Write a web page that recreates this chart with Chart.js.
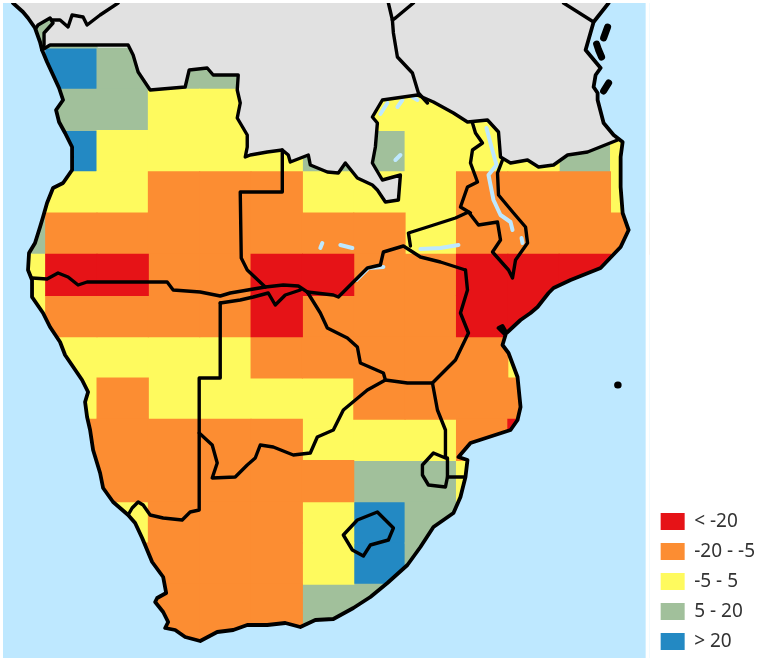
<!DOCTYPE html>
<html>
<head>
<meta charset="utf-8">
<style>
  html,body{margin:0;padding:0;background:#fff;}
  #wrap{width:765px;height:658px;}
</style>
<script src="https://cdn.jsdelivr.net/npm/chart.js@4"></script>
</head>
<body>
<div id="wrap"><canvas id="myChart"></canvas></div>
<script>
const classLabels = ['< -20', '-20 - -5', '-5 - 5', '5 - 20', '> 20'];
const classColors = ['#E61317', '#FC8D32', '#FEFA5E', '#A1C09B', '#2389C3'];

// change class of each grid cell, north to south, west to east (_ = no cell)
const _ = null;
const gridRows = [
  [3,3,_,_,_,_,_,_,_,_,_,_,_],
  [_,4,3,3,3,3,_,_,_,_,_,_,_],
  [_,3,3,2,2,2,2,2,2,2,2,_,_],
  [_,4,2,2,2,2,3,3,2,2,2,3,2],
  [2,2,2,1,1,1,2,2,2,1,1,1,2],
  [3,1,1,1,1,1,1,1,2,1,1,1,1],
  [2,0,0,1,1,0,0,1,1,0,0,0,_],
  [2,1,1,1,1,0,1,1,1,0,0,_,_],
  [_,2,2,2,2,1,1,1,1,1,2,_,_],
  [_,2,1,2,2,2,2,1,1,1,1,_,_],
  [_,1,1,1,1,1,2,2,2,1,0,_,_],
  [_,1,1,1,1,1,1,3,3,2,_,_,_],
  [_,_,2,1,1,1,2,4,3,_,_,_,_],
  [_,_,1,1,1,1,2,4,3,_,_,_,_],
  [_,_,_,1,1,1,3,3,3,_,_,_,_],
  [_,_,_,1,1,1,3,_,_,_,_,_,_]
];
// grid edges in map units
const gridLeft = -5.7, gridTop = 6.75, cellW = 51.3, cellH = 41.25;

// outlines in map units
const coast = [[13,3],[23,12],[28,18],[35,28],[40,42],[42,50],[47,62],[53,75],[59,88],[63,100],[56,110],[59,122],[65,133],[72,147],[72,170],[63,183],[53,188],[47,203],[43,217],[40,227],[35,243],[29,253],[28,270],[32,280],[32,297],[43,313],[50,327],[60,342],[65,355],[82,380],[88,392],[85,402],[87,417],[90,430],[93,450],[100,473],[103,488],[113,502],[128,515],[135,523],[142,538],[152,562],[163,577],[166,593],[157,598],[155,602],[163,612],[168,622],[165,628],[175,630],[185,637],[200,641],[217,632],[233,630],[247,625],[267,625],[285,623],[300,627],[315,620],[333,619],[353,608],[370,597],[387,583],[407,565],[420,547],[433,527],[453,513],[460,497],[465,477],[467,460],[458,457],[470,443],[510,430],[517,420],[520,407],[517,377],[508,353],[502,345],[505,335],[498,328],[502,326],[506,333],[520,320],[530,313],[537,307],[548,293],[553,288],[570,280],[600,268],[620,247],[628,230],[622,213],[620,187],[620,157],[622,142],[613,135],[603,123],[597,100],[597,93],[593,87],[595,75],[600,68],[585,50],[593,22],[608,3]];
const oceanBox = [[656,3],[656,658],[3,658],[3,3],[13,3]];
const sideMargin = [[645,0],[656,0],[656,660],[645,660],[645,0]];
const northLand = [[13,3],[23,12],[28,18],[35,28],[38,25],[50,18],[53,23],[44,33],[44,45],[42,50],[50,45],[80,45],[128,45],[133,55],[138,72],[150,90],[185,87],[189,70],[207,68],[213,75],[238,75],[237,90],[240,103],[237,118],[247,135],[247,147],[245,157],[250,155],[267,152],[282,150],[288,155],[290,162],[308,155],[310,165],[327,172],[338,173],[345,163],[357,178],[372,185],[377,190],[385,202],[398,200],[400,175],[382,180],[372,163],[375,147],[377,123],[372,117],[382,100],[417,95],[433,102],[453,113],[467,122],[487,120],[498,132],[500,157],[510,163],[527,160],[538,167],[553,165],[567,155],[587,152],[617,140],[613,135],[603,123],[597,100],[597,93],[593,87],[595,75],[600,68],[585,50],[593,22],[608,3]];
const lakes = [
  [[486,128],[491,147],[496,165],[488,175],[493,200],[500,215],[510,222],[512,230]],
  [[521,238],[522,243]],
  [[380,114],[387,103]],
  [[402,100],[397,107]],
  [[412,97],[417,100]],
  [[400,155],[395,160]],
  [[420,249],[440,248],[458,245]],
  [[356,280],[368,268],[383,267]],
  [[320,248],[322,243]],
  [[340,245],[352,248]]
];
const borders = [
  [[52,20],[60,20],[68,27],[72,15],[83,17],[87,25],[100,15],[118,3]],
  [[36,28],[38,25],[50,18],[53,23],[44,33],[44,45],[42,50]],
  [[42,50],[50,45],[80,45],[128,45],[133,55],[138,72],[150,90],[185,87],[189,70],[207,68],[213,75],[238,75],[237,90],[240,103],[237,118],[247,135],[247,147],[245,157],[250,155],[267,152],[282,150],[288,155],[290,162],[308,155],[310,165],[327,172],[338,173],[345,163],[357,178],[372,185],[377,190],[385,202],[398,200],[400,175],[382,180],[372,163],[375,147],[377,123],[372,117],[382,100],[417,95],[433,102],[453,113],[467,122],[487,120],[498,132],[500,157],[510,163],[527,160],[538,167],[553,165],[567,155],[587,152],[617,140]],
  [[388,3],[392,20],[393,33],[397,57],[412,73],[418,93],[427,103]],
  [[392,20],[395,18],[413,3]],
  [[563,3],[593,22]],
  [[32,278],[47,279],[58,273],[68,277],[78,285],[87,282],[167,282],[173,290],[200,292],[220,296],[230,293],[265,287],[283,285],[298,286],[307,292]],
  [[282,150],[282,192],[240,192],[241,258],[247,270],[265,287]],
  [[220,303],[240,300],[253,297],[268,293],[275,305],[285,295],[300,290]],
  [[220,303],[220,378],[199,378],[199,510],[190,512],[182,520],[163,518],[150,515],[143,505],[138,502],[132,508],[128,515]],
  [[199,433],[212,445],[217,463],[212,478],[235,477],[247,465],[255,458],[260,445],[273,447],[293,455],[310,453],[317,437],[333,430],[343,410],[367,390],[385,380]],
  [[307,292],[320,313],[327,328],[347,338],[357,347],[360,363],[383,373],[385,380],[407,383],[432,383],[455,360],[468,333],[460,313],[467,290],[465,270]],
  [[307,292],[333,295],[338,297],[353,282],[367,268],[380,265],[383,252],[403,246],[420,257],[440,262],[465,270]],
  [[410,246],[408,233],[427,227],[455,218],[468,212],[478,225],[497,222],[500,240],[492,252],[508,270],[512,278],[515,260],[527,243],[525,227],[513,213],[498,195],[497,173],[502,160]],
  [[472,123],[475,133],[482,143],[472,150],[470,163],[477,182],[467,187],[460,207],[470,213]],
  [[432,383],[437,410],[445,430],[445,458],[433,453],[422,465],[422,475],[428,485],[445,487],[447,477],[447,458]],
  [[447,477],[463,477]],
  [[343,535],[357,520],[377,512],[393,528],[388,540],[370,545],[363,556],[352,550],[343,535]]
];
const islands = [
  [[607,27],[603,38]],
  [[596,44],[598,50],[601,57]],
  [[608,83],[603,91]],
  [[617,385],[617.5,385]]
];

const toPoints = path => path.map(p => ({x: p[0], y: p[1]}));

// one bar list per class so that the legend comes from the library
const cellDatasets = classLabels.map((label, k) => {
  const cells = [];
  gridRows.forEach((row, r) => row.forEach((v, c) => {
    if (v === k) cells.push({x: gridLeft + (c + 0.5) * cellW, y: [gridTop + r * cellH, gridTop + (r + 1) * cellH]});
  }));
  return {label, data: cells, backgroundColor: classColors[k], borderWidth: 0, order: 10, inflateAmount: 0.5,
    barPercentage: 1, categoryPercentage: 1, grouped: false};
});

const lineSet = (name, path, color, width, order) => ({
  type: 'scatter', label: name, data: toPoints(path), showLine: true, pointRadius: 0,
  borderColor: color, borderWidth: width, borderJoinStyle: 'round', borderCapStyle: 'round', order, fill: false
});
const shapeSet = (name, path, color, order) => ({
  type: 'scatter', label: name, data: toPoints(path), showLine: true, pointRadius: 0,
  borderColor: color, borderWidth: 0, backgroundColor: color, order, fill: 'shape'
});

const mapDatasets = [
  shapeSet('ocean', coast.concat(oceanBox), '#BEE8FF', 8),
  shapeSet('margin', sideMargin, '#FFFFFF', 7),
  shapeSet('north', northLand, '#E1E1E1', 7),
  ...lakes.map((l, i) => lineSet('lake' + i, l, '#BEE8FF', 4, 6)),
  lineSet('coast', coast, '#000', 3.8, 2),
  ...borders.map((b, i) => lineSet('border' + i, b, '#000', 3.4, 3)),
  ...islands.map((b, i) => lineSet('island' + i, b, '#000', 7, 1))
];

new Chart(document.getElementById('myChart'), {
  type: 'bar',
  data: {datasets: [...cellDatasets, ...mapDatasets]},
  options: {
    responsive: true,
    maintainAspectRatio: false,
    animation: false,
    layout: {padding: {left: 3, top: 3, right: 0, bottom: -4}},
    scales: {
      x: {type: 'linear', min: 3, max: 649, bounds: 'data', offset: false, display: false, ticks: {stepSize: 1000}},
      y: {type: 'linear', min: 3, max: 658, reverse: true, display: false}
    },
    plugins: {
      tooltip: {enabled: false},
      legend: {
        position: 'right',
        align: 'end',
        maxWidth: 120,
        labels: {
          boxWidth: 24,
          boxHeight: 17,
          padding: 11,
          color: '#333',
          font: {family: 'Noto Sans', size: 19},
          filter: item => classLabels.includes(item.text)
        }
      }
    }
  }
});
</script>
</body>
</html>
